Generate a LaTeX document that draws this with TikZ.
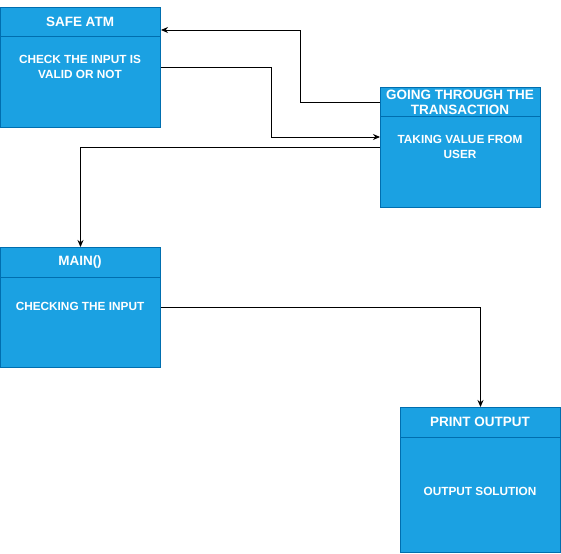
\documentclass[tikz,border=0pt]{standalone}
\usepackage{fontspec}
\setmainfont{Liberation Sans}
\usetikzlibrary{arrows.meta,positioning}
\definecolor{boxfill}{HTML}{1BA1E2}
\definecolor{boxline}{HTML}{006EAF}
\tikzset{
  lane/.style={draw=boxline, fill=boxfill, line width=1pt, minimum width=160pt, inner sep=0pt, anchor=north west},
  head/.style={text=white, font=\bfseries\fontsize{13.5}{15}\selectfont, align=center},
  body/.style={text=white, font=\bfseries\fontsize{11.8}{15}\selectfont, align=center},
  link/.style={line width=0.9pt, -{Stealth[length=7pt,width=6pt]}}
}
\begin{document}
\begin{tikzpicture}[x=1pt, y=-1pt]
    \useasboundingbox (0,0) rectangle (561,553);
    % boxes
    \node[lane, minimum height=120pt] (atm) at (0,7) {};
    \node[lane, minimum height=120pt] (trans) at (380,87) {};
    \node[lane, minimum height=120pt] (main) at (0,247) {};
    \node[lane, minimum height=145pt] (print) at (400,407) {};
    % header lines
    \draw[boxline, line width=1pt] ([yshift=-30pt]atm.north west) -- ([yshift=-30pt]atm.north east);
    \draw[boxline, line width=1pt] ([yshift=-30pt]trans.north west) -- ([yshift=-30pt]trans.north east);
    \draw[boxline, line width=1pt] ([yshift=-30pt]main.north west) -- ([yshift=-30pt]main.north east);
    \draw[boxline, line width=1pt] ([yshift=-30pt]print.north west) -- ([yshift=-30pt]print.north east);
    % texts
    \node[head] (atmhead) at (80,22) {SAFE ATM};
    \node[body] (atmbody) at (80,66.5) {CHECK THE INPUT IS\\VALID OR NOT};
    \node[head] (transhead) at (460,102) {GOING THROUGH THE\\TRANSACTION};
    \node[body] (transbody) at (460,146.5) {TAKING VALUE FROM\\USER};
    \node[head] (mainhead) at (80,262) {MAIN()};
    \node[body] (mainbody) at (80,306) {CHECKING THE INPUT};
    \node[head] (printhead) at (480,422) {PRINT OUTPUT};
    \node[body] (printbody) at (480,491) {OUTPUT SOLUTION};
    % connectors
    \draw[link] ([yshift=-15pt]trans.north west) -- ++(-80,0) |- ([yshift=-23pt]atm.north east);
    \draw[link] ([yshift=-60pt]atm.north east) -- ++(110,0) |- ([yshift=-50pt]trans.north west);
    \draw[link] ([yshift=-60pt]trans.north west) -| (main.north);
    \draw[link] (main.east) -| (print.north);
\end{tikzpicture}
\end{document}
